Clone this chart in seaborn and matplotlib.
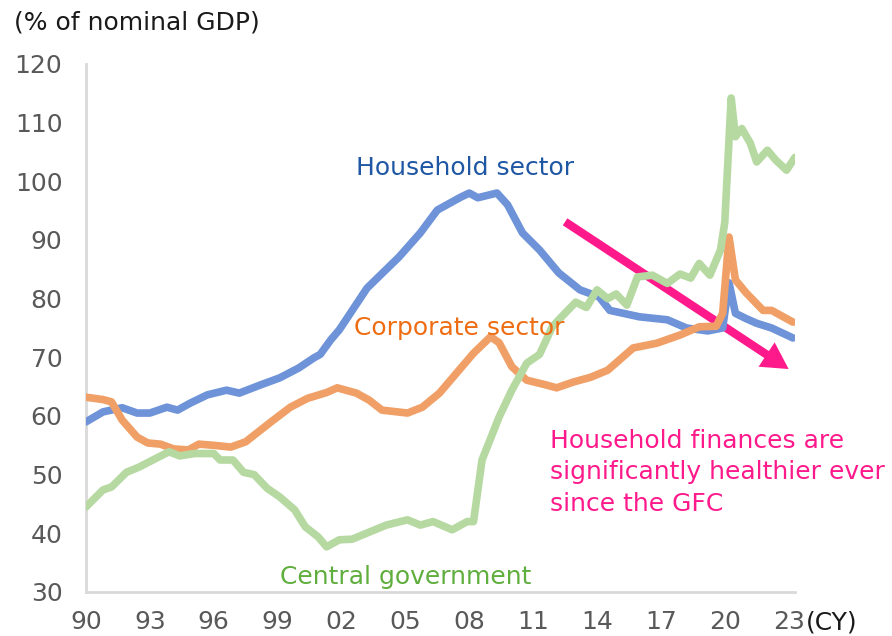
import pandas as pd
import seaborn as sns
import matplotlib.pyplot as plt

# values (% of nominal GDP)
hh_years = [1990.0, 1990.8, 1991.7, 1992.4, 1993.0, 1993.8, 1994.3, 1994.9, 1995.7, 1996.6,
            1997.2, 1998.2, 1999.1, 2000.0, 2000.7, 2001.0, 2001.5, 2001.9, 2003.2, 2004.7,
            2005.7, 2006.5, 2007.6, 2008.0, 2008.4, 2009.3, 2009.8, 2010.5, 2011.3, 2012.2,
            2013.2, 2014.1, 2014.6, 2016.0, 2017.3, 2018.2, 2019.2, 2019.9, 2020.2, 2020.5,
            2021.0, 2021.5, 2022.2, 2023.2]
hh_vals = [59.0, 60.7, 61.4, 60.5, 60.5, 61.5, 61.0, 62.2, 63.6, 64.4,
           63.9, 65.3, 66.5, 68.2, 69.9, 70.5, 73.0, 74.7, 81.8, 87.1,
           91.2, 95.1, 97.3, 98.0, 97.2, 98.0, 96.0, 91.2, 88.3, 84.4,
           81.5, 80.3, 78.0, 76.9, 76.4, 75.0, 74.5, 75.0, 82.7, 77.5,
           76.6, 75.8, 75.0, 73.3]

corp_years = [1990.0, 1990.8, 1991.2, 1991.7, 1992.4, 1992.9, 1993.5, 1994.1, 1994.8, 1995.3,
              1996.0, 1996.8, 1997.5, 1998.2, 1998.8, 1999.6, 2000.4, 2001.3, 2001.8, 2002.7,
              2003.3, 2003.9, 2005.1, 2005.8, 2006.6, 2007.4, 2008.2, 2009.0, 2009.4, 2010.0,
              2010.7, 2011.6, 2012.1, 2012.9, 2013.7, 2014.5, 2015.7, 2016.8, 2017.9, 2018.8,
              2019.6, 2019.9, 2020.2, 2020.5, 2021.0, 2021.8, 2022.2, 2022.9, 2023.2]
corp_vals = [63.2, 62.8, 62.4, 59.3, 56.4, 55.4, 55.2, 54.4, 54.2, 55.2,
             55.0, 54.7, 55.6, 57.6, 59.3, 61.5, 63.0, 64.0, 64.8, 63.9,
             62.7, 61.0, 60.5, 61.5, 63.9, 67.3, 70.7, 73.5, 72.5, 68.4,
             66.1, 65.3, 64.8, 65.8, 66.6, 67.8, 71.6, 72.4, 73.8, 75.2,
             75.3, 77.5, 90.5, 83.2, 81.0, 78.0, 78.0, 76.6, 76.0]

gov_years = [1990.0, 1990.8, 1991.2, 1991.9, 1992.5, 1993.3, 1993.9, 1994.4, 1995.1, 1996.0,
             1996.3, 1996.9, 1997.4, 1997.9, 1998.5, 1999.1, 1999.8, 2000.3, 2000.9, 2001.3,
             2001.9, 2002.5, 2004.1, 2005.1, 2005.7, 2006.3, 2007.2, 2007.9, 2008.2, 2008.6,
             2009.4, 2010.0, 2010.7, 2011.3, 2011.9, 2012.2, 2013.0, 2013.5, 2014.0, 2014.5,
             2014.9, 2015.4, 2015.9, 2016.6, 2017.3, 2017.9, 2018.4, 2018.8, 2019.3, 2019.8,
             2020.0, 2020.3, 2020.5, 2020.8, 2021.2, 2021.5, 2022.0, 2022.4, 2022.9, 2023.3]
gov_vals = [44.5, 47.4, 47.9, 50.4, 51.3, 52.8, 53.9, 53.2, 53.6, 53.6,
            52.5, 52.5, 50.4, 50.0, 47.7, 46.2, 44.0, 41.1, 39.4, 37.7,
            38.9, 39.0, 41.4, 42.3, 41.4, 42.0, 40.6, 42.0, 42.0, 52.5,
            59.8, 64.4, 69.0, 70.5, 75.2, 76.4, 79.4, 78.5, 81.5, 80.0,
            80.8, 78.9, 83.7, 84.0, 82.6, 84.2, 83.5, 86.0, 84.0, 88.3,
            93.0, 114.2, 107.6, 109.0, 106.5, 103.3, 105.3, 103.6, 101.9, 104.1]

tick_years = [1990, 1993, 1996, 1999, 2002, 2005, 2008, 2011, 2014, 2017, 2020, 2023]
tick_labels = ['90', '93', '96', '99', '02', '05', '08', '11', '14', '17', '20', '23']

df = pd.concat([
    pd.DataFrame({'year': hh_years, 'pct': hh_vals, 'sector': 'Household'}),
    pd.DataFrame({'year': corp_years, 'pct': corp_vals, 'sector': 'Corporate'}),
    pd.DataFrame({'year': gov_years, 'pct': gov_vals, 'sector': 'Government'}),
])

sns.set_theme(style='white')
plt.rcParams['font.family'] = ['DejaVu Sans']

fig = plt.figure(figsize=(8.92, 6.36), dpi=100)
ax = fig.add_axes([0.0964, 0.0692, 0.7949, 0.8302])

palette = {'Household': '#6f93d8', 'Corporate': '#f0a066', 'Government': '#b6d9a2'}
sns.lineplot(data=df, x='year', y='pct', hue='sector', palette=palette,
             linewidth=5.5, legend=False, ax=ax, sort=False, estimator=None, zorder=3)

# pink arrow
ax.annotate('', xy=(2023.0, 68.0), xytext=(2012.5, 93.1),
            arrowprops=dict(facecolor='#ff1a8c', edgecolor='none', width=6,
                            headwidth=21, headlength=19, shrink=0),
            zorder=2)

ax.set_xlim(1990, 2023.3)
ax.set_ylim(30, 120)
ax.set_xticks(tick_years)
ax.set_xticklabels(tick_labels)
ax.set_yticks(range(30, 121, 10))
ax.tick_params(axis='both', labelsize=18, colors='#595959', length=0)
ax.tick_params(axis='y', pad=17)
ax.tick_params(axis='x', pad=13)
ax.set_xlabel('')
ax.set_ylabel('')

for s in ['top', 'right']:
    ax.spines[s].set_visible(False)
for s in ['left', 'bottom']:
    ax.spines[s].set_color('#d9d9d9')
    ax.spines[s].set_linewidth(2)

fig.text(0.016, 0.965, '(% of nominal GDP)', fontsize=18, color='#1a1a1a', va='center')
fig.text(0.9036, 0.022, '(CY)', fontsize=18, color='#1a1a1a', va='center')

ax.text(2007.8, 102.3, 'Household sector', fontsize=18, color='#1f57a4', ha='center', va='center')
ax.text(2002.6, 75.0, 'Corporate sector', fontsize=18, color='#ee6d13', ha='left', va='center')
ax.text(2005.0, 32.6, 'Central government', fontsize=18, color='#5fae3e', ha='center', va='center')
ax.text(2011.8, 50.4, 'Household finances are\nsignificantly healthier ever\nsince the GFC',
        fontsize=18, color='#ff1a8c', ha='left', va='center', linespacing=1.4)

fig.savefig('out.png', dpi=100)
